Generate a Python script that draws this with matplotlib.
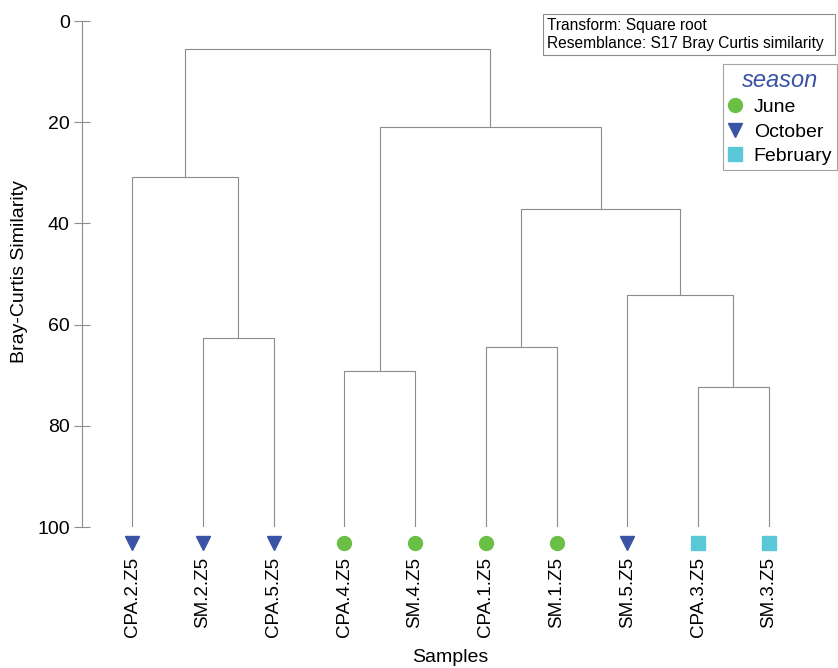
import matplotlib.pyplot as plt
from matplotlib.lines import Line2D
from matplotlib.patches import Rectangle

plt.rcParams["font.family"] = ["Liberation Sans", "DejaVu Sans"]

# leaves in dendrogram order, with their season
samples = ["CPA.2.Z5", "SM.2.Z5", "CPA.5.Z5", "CPA.4.Z5", "SM.4.Z5",
           "CPA.1.Z5", "SM.1.Z5", "SM.5.Z5", "CPA.3.Z5", "SM.3.Z5"]
season = ["October", "October", "October", "June", "June",
          "June", "June", "October", "February", "February"]

# merges: (left node, right node, similarity); new nodes numbered from 10
merge_left = [1, 3, 5, 8, 7, 12, 11, 0, 17]
merge_right = [2, 4, 6, 9, 13, 14, 15, 10, 16]
merge_sim = [62.6, 69.2, 64.4, 72.3, 54.2, 37.2, 21.0, 30.8, 5.5]

season_order = ["June", "October", "February"]
season_style = {
    "June": dict(marker="o", color="#6abf45"),
    "October": dict(marker="v", color="#3a53a4"),
    "February": dict(marker="s", color="#5bc8d8"),
}
line_col = "#8c8c8c"

fig = plt.figure(figsize=(8.38, 6.68), dpi=100)
ax = fig.add_axes([82 / 838, 1 - 527 / 668, (838 - 82) / 838, (527 - 21) / 668])

n = len(samples)
node_x = {i: float(i) for i in range(n)}
node_y = {i: 100.0 for i in range(n)}
for k, (a, b, h) in enumerate(zip(merge_left, merge_right, merge_sim)):
    xa, xb = node_x[a], node_x[b]
    ax.plot([xa, xa, xb, xb], [node_y[a], h, h, node_y[b]], color=line_col, lw=0.8)
    node_x[n + k] = (xa + xb) / 2
    node_y[n + k] = h

for i, s in enumerate(season):
    st = season_style[s]
    ax.plot(i, 103.2, ls="none", marker=st["marker"], color=st["color"],
            markersize=10, clip_on=False)

ax.set_xlim(-50 / 70.75, (838 - 132) / 70.75)
ax.set_ylim(100, 0)
ax.set_yticks([0, 20, 40, 60, 80, 100])
ax.set_xticks(range(n))
ax.set_xticklabels(samples, rotation=90, fontsize=13.5)
ax.tick_params(axis="x", length=0, pad=21.5)
ax.tick_params(axis="y", direction="inout", length=11.5, width=0.8, color=line_col,
               labelsize=14, pad=3)
for side in ["top", "right", "bottom"]:
    ax.spines[side].set_visible(False)
ax.spines["left"].set_color(line_col)
ax.spines["left"].set_linewidth(0.8)
ax.spines["left"].set_bounds(0, 100)

fig.text(20 / 838, 1 - 272 / 668, "Bray-Curtis Similarity", rotation=90,
         ha="center", va="center", fontsize=14)
fig.text(450 / 838, 1 - 657 / 668, "Samples", ha="center", va="center", fontsize=14)

# info box
fig.add_artist(Rectangle((543 / 838, 1 - 55 / 668), (835 - 543) / 838, 41 / 668,
                         transform=fig.transFigure, fc="white", ec=line_col, lw=0.8))
fig.text(547 / 838, 1 - 34.5 / 668,
         "Transform: Square root\nResemblance: S17 Bray Curtis similarity",
         ha="left", va="center", fontsize=11.2, linespacing=1.25)

handles = [Line2D([], [], ls="none", marker=season_style[s]["marker"],
                  color=season_style[s]["color"], markersize=10) for s in season_order]
leg = ax.legend(handles, season_order, title="season", loc="upper right",
                bbox_to_anchor=(837 / 838, 1 - 64 / 668), bbox_transform=fig.transFigure,
                fontsize=14, frameon=True, fancybox=False, borderpad=0.25,
                handlelength=0.8, handletextpad=0.55, labelspacing=0.35, borderaxespad=0)
leg.get_frame().set_edgecolor(line_col)
leg.get_frame().set_linewidth(0.8)
leg.get_title().set_fontsize(17)
leg.get_title().set_fontstyle("italic")
leg.get_title().set_color("#3a53a4")

fig.savefig("out.png", dpi=100)
